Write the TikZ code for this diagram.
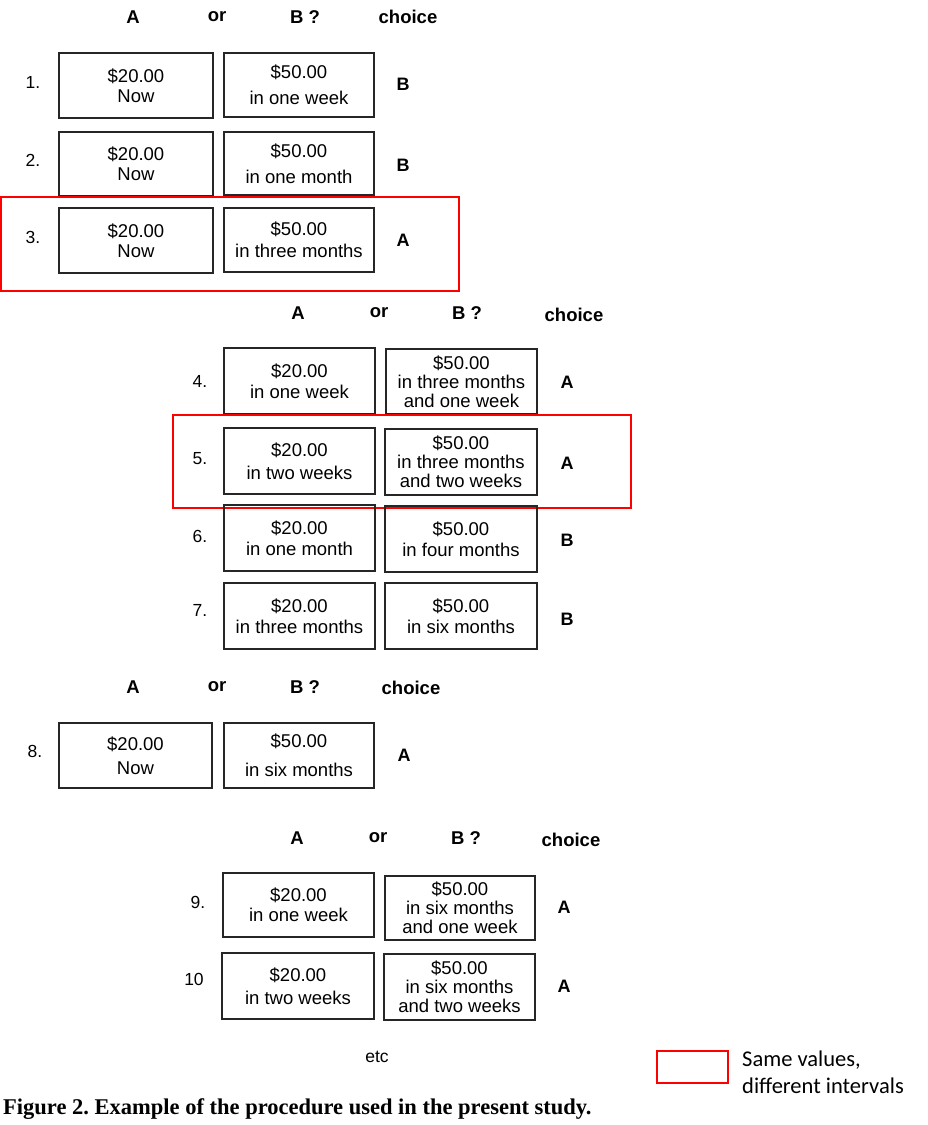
\documentclass[tikz,border=0pt]{standalone}
\usepackage{fontspec}
\setmainfont{Liberation Sans}
\newfontfamily\calfont{Carlito}
\newfontfamily\capfont{Liberation Serif}
\frenchspacing
\tikzset{
  cell/.style={draw=black!85, line width=1.3pt, inner sep=0pt, align=center,
    font=\fontsize{18.5}{19}\selectfont},
  hdr/.style={font=\fontsize{18.5}{20}\selectfont\bfseries, inner sep=0pt},
  num/.style={font=\fontsize{17.5}{20}\selectfont, inner sep=0pt},
  chc/.style={font=\fontsize{18}{20}\selectfont\bfseries, inner sep=0pt},
  redbox/.style={draw=red, line width=2pt}
}
\newcommand\cellbox[6]{\node[cell, minimum width={(#4-#2)*1pt}, minimum height={(#5-#3)*1pt}] (#1) at ({(#2+#4)/2},{-(#3+#5)/2}) {#6};}
\begin{document}
\begin{tikzpicture}[x=1pt,y=1pt]
\useasboundingbox (0,0) rectangle (927,-1125);
% group 1
\node[hdr] (h1a) at (133,-17) {A};
\node[hdr] (h1o) at (217,-17) {or};
\node[hdr] (h1b) at (305,-17) {B ?};
\node[hdr] (h1c) at (408,-17) {choice};
\node[num] (n1) at (33,-82) {1.};
\cellbox{a1}{59}{53}{213}{118}{\$20.00\\[1pt]Now}
\cellbox{b1}{224}{53}{374}{117}{\$50.00\\[7pt]in one week}
\node[chc] (c1) at (403,-84) {B};
\node[num] (n2) at (33,-160) {2.};
\cellbox{a2}{59}{132}{213}{196}{\$20.00\\[1pt]Now}
\cellbox{b2}{224}{132}{374}{195}{\$50.00\\[7pt]in one month}
\node[chc] (c2) at (403,-165) {B};
\node[num] (n3) at (33,-237) {3.};
\cellbox{a3}{59}{208}{213}{273}{\$20.00\\[1pt]Now}
\cellbox{b3}{224}{208}{374}{272}{\$50.00\\[3pt]in three months}
\node[chc] (c3) at (403,-240) {A};
\draw[redbox] (1,-197) rectangle (459,-291);
% group 2
\node[hdr] (h2a) at (298,-313) {A};
\node[hdr] (h2o) at (379,-313) {or};
\node[hdr] (h2b) at (467,-313) {B ?};
\node[hdr] (h2c) at (574,-315) {choice};
\node[num] (n4) at (200,-381) {4.};
\cellbox{a4}{224}{348}{375}{414}{\$20.00\\[2pt]in one week}
\cellbox{b4}{386}{349}{537}{414}{\$50.00\\in three months\\and one week}
\node[chc] (c4) at (567,-382) {A};
\node[num] (n5) at (200,-459) {5.};
\cellbox{a5}{224}{428}{375}{494}{\$20.00\\[4pt]in two weeks}
\cellbox{b5}{385}{429}{537}{495}{\$50.00\\in three months\\and two weeks}
\node[chc] (c5) at (567,-463) {A};
\draw[redbox] (173,-415) rectangle (631,-508);
\node[num] (n6) at (200,-536) {6.};
\cellbox{a6}{224}{505}{375}{571}{\$20.00\\[2pt]in one month}
\cellbox{b6}{385}{506}{537}{572}{\$50.00\\[2pt]in four months}
\node[chc] (c6) at (567,-540) {B};
\node[num] (n7) at (200,-610) {7.};
\cellbox{a7}{224}{583}{375}{649}{\$20.00\\[2pt]in three months}
\cellbox{b7}{385}{583}{537}{649}{\$50.00\\[2pt]in six months}
\node[chc] (c7) at (567,-619) {B};
% group 3
\node[hdr] (h3a) at (133,-687) {A};
\node[hdr] (h3o) at (217,-687) {or};
\node[hdr] (h3b) at (305,-687) {B ?};
\node[hdr] (h3c) at (411,-688) {choice};
\node[num] (n8) at (35,-751) {8.};
\cellbox{a8}{59}{723}{212}{788}{\$20.00\\[5pt]Now}
\cellbox{b8}{224}{723}{374}{788}{\$50.00\\[10pt]in six months}
\node[chc] (c8) at (404,-755) {A};
% group 4
\node[hdr] (h4a) at (297,-838) {A};
\node[hdr] (h4o) at (378,-838) {or};
\node[hdr] (h4b) at (466,-838) {B ?};
\node[hdr] (h4c) at (571,-840) {choice};
\node[num] (n9) at (198,-902) {9.};
\cellbox{a9}{223}{873}{374}{937}{\$20.00\\[1pt]in one week}
\cellbox{b9}{385}{876}{535}{940}{\$50.00\\in six months\\and one week}
\node[chc] (c9) at (564,-907) {A};
\node[num] (n10) at (194,-979) {10};
\cellbox{a10}{222}{953}{374}{1019}{\$20.00\\[4pt]in two weeks}
\cellbox{b10}{384}{954}{535}{1020}{\$50.00\\in six months\\and two weeks}
\node[chc] (c10) at (564,-986) {A};
\node[num] (etc) at (377,-1057) {etc};
% legend
\draw[redbox] (657,-1051) rectangle (728,-1083);
\node[anchor=west, align=left, inner sep=0pt, font=\calfont\fontsize{22.5}{27}\selectfont] (leg) at (742,-1072) {Same values,\\different intervals};
% caption
\node[anchor=west, inner sep=0pt, font=\capfont\bfseries\fontsize{22.5}{24}\selectfont] (cap) at (3,-1109) {Figure 2. Example of the procedure used in the present study.};
\end{tikzpicture}
\end{document}
